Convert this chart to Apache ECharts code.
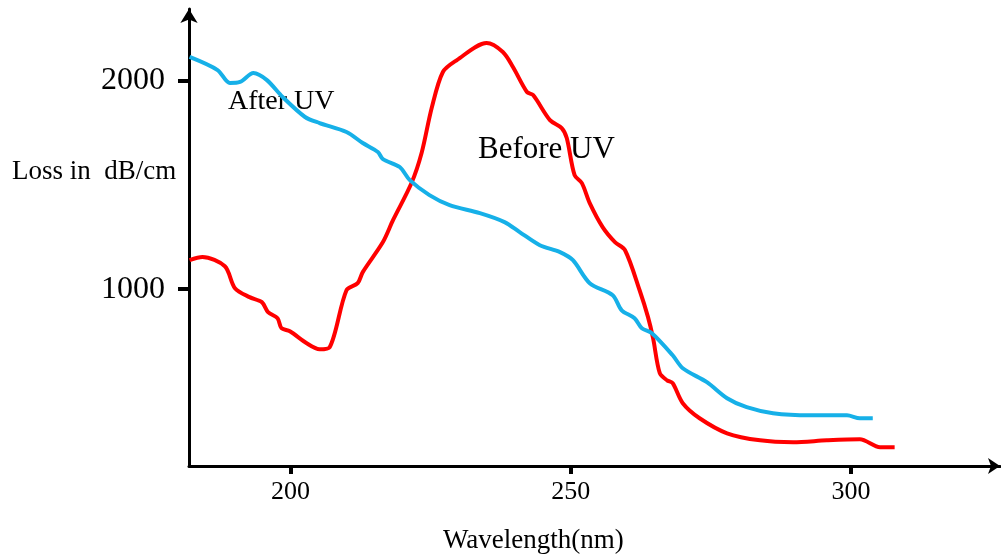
<!DOCTYPE html>
<html>
<head>
<meta charset="utf-8">
<title>Loss vs Wavelength</title>
<script src="https://cdn.jsdelivr.net/npm/echarts@6/dist/echarts.min.js"></script>
<style>
  html, body { margin: 0; padding: 0; background: #fff; }
  #main { width: 1001px; height: 559px; }
</style>
</head>
<body>
<div id="main"></div>
<script>
  // wavelength (nm) / loss (dB/cm)
  var afterWave = [182, 187.0, 189.2, 191.0, 193.4, 195.8, 198.6, 202.6, 205.2, 210.0, 212.9, 215.6, 216.5, 219.5,
    221.3, 224.8, 228.4, 233.8, 238.2, 240.9, 244.5, 248.1, 250.4, 253.4, 257.5, 259.1, 261.4, 262.7, 264.5,
    268.2, 270.0, 274.3, 277.9, 281.4, 286.1, 292.7, 299.3, 301.6, 303.9];
  var afterLoss = [2114, 2051, 1989, 1994, 2037, 2003, 1922, 1826, 1797, 1754, 1701, 1658, 1624, 1586,
    1523, 1451, 1403, 1365, 1322, 1274, 1211, 1178, 1139, 1029, 971, 899, 861, 813, 789,
    683, 621, 554, 477, 434, 405, 395, 395, 381, 381];

  var beforeWave = [182.0, 184.3, 188.3, 190.1, 192.7, 194.9, 196.0, 197.7, 198.4, 199.9, 202.9, 205.2, 207.0,
    210.0, 212.0, 212.9, 216.5, 218.3, 221.6, 223.4, 225.2, 227.2, 229.7, 235.0, 237.9, 239.7, 242.2, 243.3,
    246.3, 248.4, 249.3, 250.7, 252.0, 253.4, 255.7, 257.9, 259.7, 262.3, 263.8, 264.7, 265.9, 267.2, 268.2,
    270.0, 273.0, 277.9, 283.8, 289.7, 295.7, 301.6, 305.2, 307.8];
  var beforeLoss = [1139, 1154, 1110, 1005, 962, 938, 890, 861, 813, 798, 741, 712, 722,
    995, 1029, 1082, 1226, 1331, 1509, 1653, 1869, 2042, 2099, 2181, 2138, 2066, 1946, 1931,
    1811, 1773, 1725, 1547, 1509, 1413, 1298, 1226, 1187, 995, 866, 765, 597, 563, 549,
    453, 381, 309, 275, 266, 275, 280, 242, 242];

  var xTicks = [200, 250, 300];
  var yTicks = [1000, 2000];

  function pairs(xs, ys) {
    var out = [];
    for (var i = 0; i < xs.length; i++) {
      out.push([xs[i], ys[i]]);
    }
    return out;
  }

  var font = '"Liberation Serif", "Times New Roman", serif';
  var chart = echarts.init(document.getElementById('main'));
  chart.setOption({
    animation: false,
    grid: {
      left: 189,
      right: 1,
      top: 9,
      bottom: 93
    },
    xAxis: {
      type: 'value',
      min: 181.9,
      max: 326.6,
      splitLine: { show: false },
      axisLine: {
        lineStyle: { color: '#000', width: 3 },
        symbol: ['none', 'arrow'],
        symbolSize: [12, 12]
      },
      axisTick: {
        customValues: xTicks,
        length: 8,
        lineStyle: { color: '#000', width: 4 }
      },
      axisLabel: {
        customValues: xTicks,
        margin: 13,
        color: '#000',
        fontFamily: font,
        fontSize: 26,
        formatter: function (v) { return String(v); }
      }
    },
    yAxis: {
      type: 'value',
      min: 152,
      max: 2344,
      splitLine: { show: false },
      axisLine: {
        lineStyle: { color: '#000', width: 3 },
        symbol: ['none', 'arrow'],
        symbolSize: [13, 14]
      },
      axisTick: {
        customValues: yTicks,
        length: 11,
        lineStyle: { color: '#000', width: 4 }
      },
      axisLabel: {
        customValues: yTicks,
        margin: 24,
        color: '#000',
        fontFamily: font,
        fontSize: 32,
        formatter: function (v) { return String(v); }
      }
    },
    graphic: [
      { type: 'text', left: 12, top: 158, style: { text: 'Loss in  dB/cm', font: '27px ' + font, fill: '#000' } },
      { type: 'text', left: 443, top: 527, style: { text: 'Wavelength(nm)', font: '27px ' + font, fill: '#000' } },
      { type: 'text', left: 228, top: 88, style: { text: 'After UV', font: '28px ' + font, fill: '#000' } },
      { type: 'text', left: 478, top: 134, style: { text: 'Before UV', font: '31px ' + font, fill: '#000' } }
    ],
    series: [
      {
        name: 'Before UV',
        type: 'line',
        data: pairs(beforeWave, beforeLoss),
        showSymbol: false,
        smooth: 0.3,
        lineStyle: { color: '#ff0000', width: 4 }
      },
      {
        name: 'After UV',
        type: 'line',
        data: pairs(afterWave, afterLoss),
        showSymbol: false,
        smooth: 0.3,
        lineStyle: { color: '#16b0e8', width: 4 }
      }
    ]
  });
</script>
</body>
</html>
